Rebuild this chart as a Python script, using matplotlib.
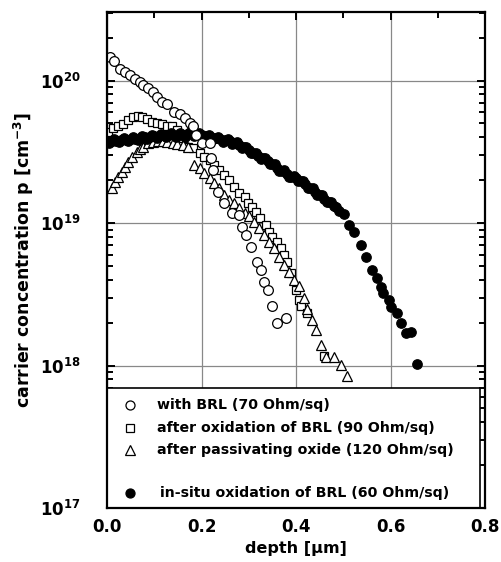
import matplotlib
matplotlib.use("Agg")
import matplotlib.pyplot as plt
from matplotlib.patches import Rectangle
from matplotlib.ticker import MultipleLocator, LogLocator, NullFormatter

plt.rcParams['font.family'] = ['DejaVu Sans']
plt.rcParams['font.weight'] = 'bold'
plt.rcParams['mathtext.fontset'] = 'custom'
plt.rcParams['mathtext.rm'] = 'DejaVu Sans:bold'
plt.rcParams['mathtext.bf'] = 'DejaVu Sans:bold'
plt.rcParams['mathtext.default'] = 'bf'

# ---- data ----
brl_x = [0.006, 0.015, 0.027, 0.038, 0.048, 0.059, 0.069, 0.076, 0.086, 0.097,
         0.105, 0.116, 0.128, 0.141, 0.154, 0.166, 0.175, 0.181, 0.189, 0.202,
         0.217, 0.221, 0.225, 0.234, 0.248, 0.265, 0.280, 0.286, 0.295, 0.305,
         0.318, 0.326, 0.333, 0.341, 0.349, 0.360, 0.379]
brl_p = [1.47e20, 1.37e20, 1.21e20, 1.15e20, 1.10e20, 1.03e20, 9.8e19, 9.3e19, 8.9e19, 8.3e19,
         7.7e19, 7.1e19, 6.8e19, 6.0e19, 5.8e19, 5.5e19, 5.05e19, 4.8e19, 4.16e19, 3.66e19,
         3.66e19, 2.87e19, 2.37e19, 1.66e19, 1.39e19, 1.18e19, 1.14e19, 9.4e18, 8.3e18, 6.8e18,
         5.3e18, 4.7e18, 3.87e18, 3.40e18, 2.63e18, 2.0e18, 2.17e18]

ox_x = [0.002, 0.013, 0.023, 0.034, 0.044, 0.055, 0.065, 0.074, 0.084, 0.095,
        0.105, 0.116, 0.126, 0.137, 0.149, 0.160, 0.171, 0.181, 0.196, 0.206,
        0.217, 0.227, 0.238, 0.248, 0.259, 0.269, 0.280, 0.291, 0.299, 0.307,
        0.316, 0.324, 0.337, 0.343, 0.349, 0.360, 0.368, 0.375, 0.381, 0.389,
        0.400, 0.406, 0.411, 0.423, 0.459]
ox_p = [4.37e19, 4.66e19, 4.81e19, 4.97e19, 5.3e19, 5.56e19, 5.65e19, 5.56e19, 5.39e19, 5.13e19,
        5.05e19, 4.97e19, 4.81e19, 4.81e19, 4.5e19, 3.96e19, 3.43e19, 3.37e19, 3.11e19, 2.92e19,
        2.78e19, 2.56e19, 2.37e19, 2.18e19, 2.01e19, 1.80e19, 1.63e19, 1.53e19, 1.39e19, 1.30e19,
        1.20e19, 1.09e19, 9.7e18, 8.7e18, 8.0e18, 7.4e18, 6.7e18, 6.0e18, 5.3e18, 4.48e18,
        3.40e18, 2.90e18, 2.63e18, 2.35e18, 1.17e18]

pas_x = [0.011, 0.017, 0.023, 0.032, 0.038, 0.044, 0.053, 0.063, 0.069, 0.076,
         0.086, 0.097, 0.107, 0.118, 0.128, 0.139, 0.149, 0.160, 0.171, 0.185,
         0.196, 0.206, 0.217, 0.227, 0.238, 0.248, 0.259, 0.269, 0.280, 0.291,
         0.301, 0.312, 0.322, 0.333, 0.343, 0.354, 0.364, 0.375, 0.385, 0.396,
         0.406, 0.417, 0.423, 0.434, 0.442, 0.453, 0.463, 0.480, 0.495, 0.507]
pas_p = [1.77e19, 1.95e19, 2.11e19, 2.29e19, 2.48e19, 2.69e19, 2.92e19, 3.16e19, 3.32e19, 3.43e19,
         3.66e19, 3.72e19, 3.78e19, 3.78e19, 3.72e19, 3.66e19, 3.60e19, 3.54e19, 3.43e19, 2.56e19,
         2.44e19, 2.25e19, 2.08e19, 1.92e19, 1.77e19, 1.58e19, 1.46e19, 1.39e19, 1.28e19, 1.18e19,
         1.12e19, 1.02e19, 9.3e18, 8.3e18, 7.4e18, 6.7e18, 5.8e18, 5.1e18, 4.55e18, 4.0e18,
         3.63e18, 2.99e18, 2.51e18, 2.10e18, 1.79e18, 1.40e18, 1.15e18, 1.14e18, 1.01e18, 8.4e17]

insitu_x = [0.003, 0.010, 0.020, 0.030, 0.040, 0.050, 0.060, 0.070, 0.080, 0.090,
            0.100, 0.110, 0.120, 0.130, 0.140, 0.150, 0.160, 0.170, 0.180, 0.190,
            0.200, 0.210, 0.220, 0.230, 0.240, 0.250, 0.260, 0.270, 0.280, 0.290,
            0.300, 0.310, 0.320, 0.330, 0.340, 0.350, 0.360, 0.370, 0.380, 0.390,
            0.400, 0.410, 0.420, 0.430, 0.440, 0.450, 0.460, 0.470, 0.480, 0.484,
            0.492, 0.501, 0.512, 0.522, 0.537, 0.549, 0.560, 0.571, 0.579, 0.585,
            0.596, 0.602, 0.613, 0.623, 0.632, 0.644, 0.655,
            0.005, 0.015, 0.025, 0.035, 0.045, 0.055, 0.065, 0.075, 0.085, 0.095,
            0.105, 0.115, 0.125, 0.135, 0.145, 0.155, 0.165, 0.175, 0.185, 0.195,
            0.205, 0.215, 0.225, 0.235, 0.245, 0.255, 0.265, 0.275, 0.285, 0.295,
            0.305, 0.315, 0.325, 0.335, 0.345, 0.355, 0.365, 0.375, 0.385, 0.395,
            0.405, 0.415, 0.425, 0.435, 0.445, 0.455, 0.465, 0.475]
insitu_p = [3.72e19, 3.75e19, 3.78e19, 3.81e19, 3.84e19, 3.87e19, 3.90e19, 3.96e19, 4.0e19, 4.03e19,
            4.06e19, 4.09e19, 4.13e19, 4.16e19, 4.16e19, 4.16e19, 4.16e19, 4.2e19, 4.2e19, 4.2e19,
            4.16e19, 4.09e19, 4.03e19, 3.96e19, 3.87e19, 3.81e19, 3.75e19, 3.66e19, 3.54e19, 3.40e19,
            3.27e19, 3.11e19, 2.96e19, 2.85e19, 2.74e19, 2.58e19, 2.44e19, 2.33e19, 2.22e19, 2.11e19,
            2.08e19, 1.98e19, 1.87e19, 1.77e19, 1.66e19, 1.58e19, 1.48e19, 1.41e19, 1.32e19, 1.30e19,
            1.22e19, 1.15e19, 9.7e18, 8.7e18, 7.05e18, 5.8e18, 4.7e18, 4.13e18, 3.57e18, 3.24e18,
            2.90e18, 2.59e18, 2.35e18, 2.0e18, 1.70e18, 1.73e18, 1.03e18,
            3.62e19, 3.88e19, 3.69e19, 3.94e19, 3.74e19, 4.01e19, 3.81e19, 4.10e19, 3.90e19, 4.17e19,
            3.96e19, 4.23e19, 4.03e19, 4.28e19, 4.04e19, 4.28e19, 4.05e19, 4.33e19, 4.07e19, 4.31e19,
            4.01e19, 4.18e19, 3.88e19, 4.04e19, 3.72e19, 3.89e19, 3.59e19, 3.71e19, 3.37e19, 3.43e19,
            3.09e19, 3.12e19, 2.81e19, 2.87e19, 2.58e19, 2.59e19, 2.31e19, 2.34e19, 2.10e19, 2.15e19,
            1.97e19, 1.98e19, 1.77e19, 1.76e19, 1.57e19, 1.58e19, 1.40e19, 1.40e19]

labels = ["with BRL (70 Ohm/sq)",
          "after oxidation of BRL (90 Ohm/sq)",
          "after passivating oxide (120 Ohm/sq)",
          "in-situ oxidation of BRL (60 Ohm/sq)"]
x_ticks = [0.0, 0.2, 0.4, 0.6, 0.8]
x_ticklabels = ["0.0", "0.2", "0.4", "0.6", "0.8"]

# ---- figure ----
fig = plt.figure(figsize=(5.01, 5.62), dpi=100)
ax = fig.add_axes([0.2136, 0.0961, 0.7545, 0.8825])

mew = 0.9
ax.plot(ox_x, ox_p, ls='none', marker='s', ms=6.2, mfc='white', mec='black', mew=mew, zorder=3)
ax.plot(pas_x, pas_p, ls='none', marker='^', ms=7.0, mfc='white', mec='black', mew=mew, zorder=3)
ax.plot(insitu_x, insitu_p, ls='none', marker='o', ms=6.8, mfc='black', mec='black', mew=mew, zorder=4)
ax.plot(brl_x, brl_p, ls='none', marker='o', ms=7.0, mfc='white', mec='black', mew=mew, zorder=5)

ax.set_yscale('log')
ax.set_xlim(0, 0.8)
ax.set_ylim(1e17, 3.03e20)
ax.set_xticks(x_ticks)
ax.set_xticklabels(x_ticklabels)
ax.xaxis.set_minor_locator(MultipleLocator(0.1))
ax.yaxis.set_major_locator(LogLocator(base=10, numticks=10))
ax.yaxis.set_minor_locator(LogLocator(base=10, subs=range(2, 10), numticks=20))
ax.yaxis.set_minor_formatter(NullFormatter())

ax.grid(True, which='major', color='#888888', lw=0.9, zorder=1)
ax.set_axisbelow(True)
for s in ax.spines.values():
    s.set_linewidth(1.6)
    s.set_zorder(10)
ax.tick_params(which='both', direction='in', top=True, right=True, width=1.4, zorder=10)
ax.tick_params(which='major', length=6)
ax.tick_params(which='minor', length=4)
ax.tick_params(axis='x', labelsize=12, pad=7)
ax.tick_params(axis='y', labelsize=12, pad=19)
for lab in ax.get_xticklabels() + ax.get_yticklabels():
    lab.set_fontweight('bold')

ax.set_xlabel("depth [µm]", fontsize=11.5, fontweight='bold', labelpad=4)
ax.set_ylabel("carrier concentration p [cm$^{-3}$]", fontsize=12.5, fontweight='bold', labelpad=3)

# ---- legend box ----
ax.add_patch(Rectangle((0.0, 0.0), 0.987, 0.242, transform=ax.transAxes,
                       facecolor='white', edgecolor='black', lw=1.2, zorder=8))
rows = [0.2077, 0.1613, 0.117, 0.030]
mk = [dict(marker='o', mfc='white', ms=6.5), dict(marker='s', mfc='white', ms=5.8),
      dict(marker='^', mfc='white', ms=6.5), dict(marker='o', mfc='black', ms=6.5)]
tx = [0.132, 0.132, 0.132, 0.140]
for yv, m, t, lbl in zip(rows, mk, tx, labels):
    ax.plot([0.061], [yv], transform=ax.transAxes, ls='none', mec='black', mew=mew,
            zorder=9, clip_on=False, **m)
    ax.text(t, yv, lbl, transform=ax.transAxes, fontsize=10.2, fontweight='bold',
            va='center', ha='left', zorder=9)

fig.savefig("out.png", dpi=100)
